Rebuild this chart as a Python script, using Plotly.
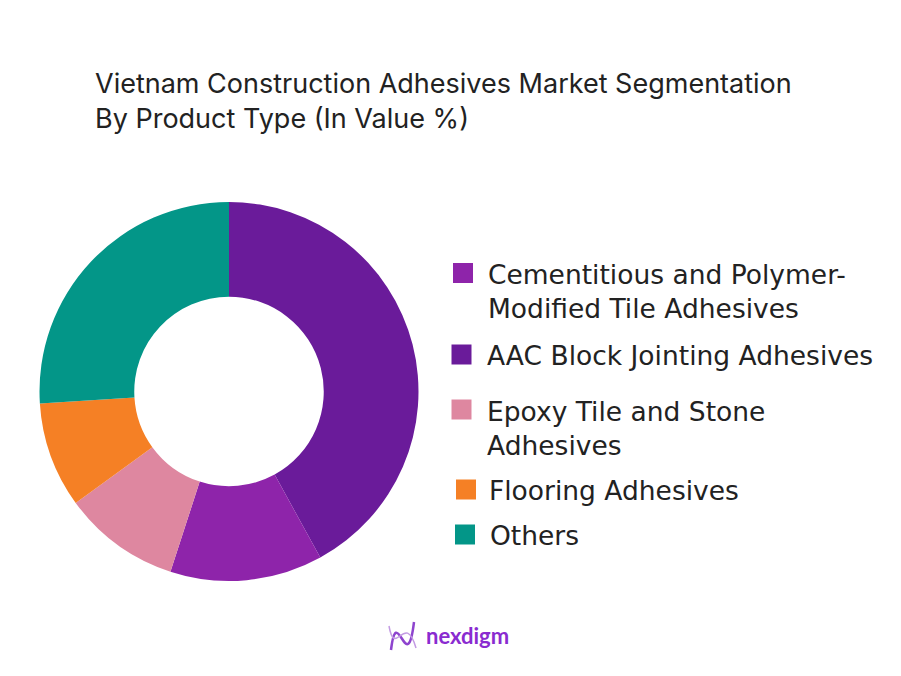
import plotly.graph_objects as go

# Pie order (clockwise from 12 o'clock)
categories = ["AAC Block Jointing Adhesives",
              "Cementitious and Polymer-Modified Tile Adhesives",
              "Epoxy Tile and Stone Adhesives",
              "Flooring Adhesives",
              "Others"]
values = [42, 13, 10, 9, 26]
colors = ["#6a1b9a", "#8e24aa", "#de87a0", "#f58025", "#039688"]

# Legend order and wrapped legend labels
legend_order = ["Cementitious and Polymer-Modified Tile Adhesives",
                "AAC Block Jointing Adhesives",
                "Epoxy Tile and Stone Adhesives",
                "Flooring Adhesives",
                "Others"]
legend_text = ["Cementitious and Polymer-<br>Modified Tile Adhesives",
               "AAC Block Jointing Adhesives",
               "Epoxy Tile and Stone<br>Adhesives",
               "Flooring Adhesives",
               "Others"]

title_text = "Vietnam Construction Adhesives Market Segmentation<br>By Product Type (In Value %)"

W, H = 901, 676
cx, cy, r = 229, 391.5, 189.5

# legend layout (pixel positions, top-left origin)
mark_x = [463, 461.5, 461.5, 466, 465]
mark_y = [273, 354.5, 409.5, 489.5, 534.5]
text_x = [486, 485, 485, 487, 488]
LH = 35.5  # line spacing

fig = go.Figure()
fig.add_trace(go.Pie(
    labels=categories, values=values, hole=0.5, sort=False,
    direction="clockwise", rotation=0,
    marker=dict(colors=colors, line=dict(width=0)),
    textinfo="none", hoverinfo="label+percent", showlegend=False,
    domain=dict(x=[(cx - r) / W, (cx + r) / W],
                y=[(H - cy - r) / H, (H - cy + r) / H]),
))

color_of = dict(zip(categories, colors))
fig.add_trace(go.Scatter(
    x=mark_x, y=mark_y, mode="markers",
    marker=dict(symbol="square", size=20,
                color=[color_of[n] for n in legend_order], line=dict(width=0)),
    hovertext=legend_order, hoverinfo="text", showlegend=False,
))

annotations = []
for txt, tx, my in zip(legend_text, text_x, mark_y):
    n = txt.count("<br>") + 1
    yc = my + (n - 1) * LH / 2
    annotations.append(dict(
        text=txt, x=tx, y=yc + 1, xref="x", yref="y", xanchor="left", yanchor="middle",
        align="left", showarrow=False,
        font=dict(family="DejaVu Sans", size=26.5, color="#222222"),
    ))

annotations.append(dict(
    text=title_text, x=93, y=101, xref="x", yref="y", xanchor="left", yanchor="middle",
    align="left", showarrow=False,
    font=dict(family="Inter", size=27, color="#222222"),
))
annotations.append(dict(
    text="<b>nexdigm</b>", x=424, y=635, xref="x", yref="y",
    xanchor="left", yanchor="middle", showarrow=False,
    font=dict(family="Lato", size=22, color="#8a2bd0"),
))

fig.update_layout(
    width=W, height=H,
    margin=dict(l=0, r=0, t=0, b=0),
    paper_bgcolor="white", plot_bgcolor="rgba(0,0,0,0)",
    xaxis=dict(visible=False, range=[0, W], domain=[0, 1], fixedrange=True),
    yaxis=dict(visible=False, range=[H, 0], domain=[0, 1], fixedrange=True),
    showlegend=False,
    annotations=annotations,
    shapes=[
        dict(type="path", xref="x", yref="y",
             path="M 391 650 C 397 600, 407 680, 414 622",
             line=dict(color="#8e44ce", width=2.5)),
        dict(type="path", xref="x", yref="y",
             path="M 389 626 C 395 660, 405 610, 416 648",
             line=dict(color="#c39be3", width=1.5)),
    ],
)

fig.write_html("out.html")
